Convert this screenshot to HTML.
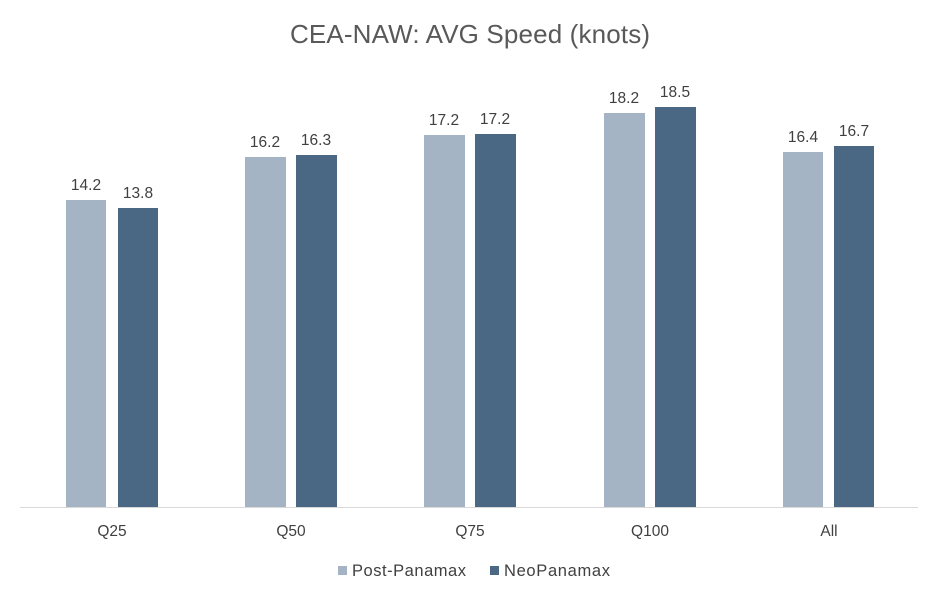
<!DOCTYPE html>
<html><head><style>
body{margin:0;background:#fff}
svg text{font-family:"Liberation Sans",sans-serif;fill:#404040}
</style></head><body>
<svg width="940" height="600" xmlns="http://www.w3.org/2000/svg">
<rect width="940" height="600" fill="#fff"/>
<text x="470" y="43" font-size="26" text-anchor="middle" textLength="360" style="fill:#595959">CEA-NAW: AVG Speed (knots)</text>
<g fill="#a5b4c4">
<rect x="66" y="200" width="40" height="307"/>
<rect x="245" y="157" width="41" height="350"/>
<rect x="424" y="135" width="41" height="372"/>
<rect x="604" y="113" width="41" height="394"/>
<rect x="783" y="152" width="40" height="355"/>
</g>
<g fill="#4a6784">
<rect x="118" y="208" width="40" height="299"/>
<rect x="296" y="155" width="41" height="352"/>
<rect x="475" y="134" width="41" height="373"/>
<rect x="655" y="107" width="41" height="400"/>
<rect x="834" y="146" width="40" height="361"/>
</g>
<line x1="20" y1="507.5" x2="918" y2="507.5" stroke="#d9d9d9" stroke-width="1"/>
<g font-size="15.5" text-anchor="middle">
<text x="86" y="190">14.2</text><text x="138" y="198">13.8</text>
<text x="265" y="147">16.2</text><text x="316" y="145">16.3</text>
<text x="444" y="125">17.2</text><text x="495" y="124">17.2</text>
<text x="624" y="103">18.2</text><text x="675" y="97">18.5</text>
<text x="803" y="142">16.4</text><text x="854" y="136">16.7</text>
<text x="112" y="536">Q25</text><text x="291" y="536">Q50</text>
<text x="470" y="536">Q75</text><text x="650" y="536">Q100</text>
<text x="829" y="536">All</text>
</g>
<rect x="338" y="566" width="9" height="9" fill="#a5b4c4"/>
<text x="352" y="576" font-size="16.5" textLength="114">Post-Panamax</text>
<rect x="490" y="566" width="9" height="9" fill="#4a6784"/>
<text x="504" y="576" font-size="16.5" textLength="106">NeoPanamax</text>
</svg>
</body></html>
